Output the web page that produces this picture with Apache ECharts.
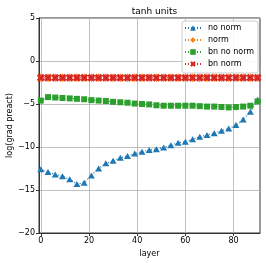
<!DOCTYPE html>
<html>
<head>
<meta charset="utf-8">
<script src="https://cdn.jsdelivr.net/npm/echarts@6/dist/echarts.min.js"></script>
<style>
html,body{margin:0;padding:0;background:#fff;}
#c{width:266px;height:263px;}
</style>
</head>
<body>
<div id="c"></div>
<script>
const layers = [0,3,6,9,12,15,18,21,24,27,30,33,36,39,42,45,48,51,54,57,60,63,66,69,72,75,78,81,84,87,90];
const noNorm = [-12.6,-12.9,-13.2,-13.4,-13.75,-14.3,-14.15,-13.3,-12.5,-11.9,-11.6,-11.25,-11.05,-10.75,-10.55,-10.35,-10.25,-10.05,-9.8,-9.5,-9.4,-9.1,-8.8,-8.6,-8.4,-8.1,-7.85,-7.45,-6.8,-5.9,-4.5];
const norm = [-1.95,-1.95,-1.95,-1.95,-1.95,-1.95,-1.95,-1.95,-1.95,-1.95,-1.95,-1.95,-1.95,-1.95,-1.95,-1.95,-1.95,-1.95,-1.95,-1.95,-1.95,-1.95,-1.95,-1.95,-1.95,-1.95,-1.95,-1.95,-1.95,-1.95,-1.95];
const bnNoNorm = [-4.6,-4.2,-4.25,-4.3,-4.35,-4.4,-4.45,-4.55,-4.6,-4.65,-4.75,-4.8,-4.85,-4.95,-5.0,-5.05,-5.15,-5.2,-5.2,-5.2,-5.2,-5.2,-5.25,-5.3,-5.3,-5.35,-5.4,-5.35,-5.3,-5.2,-4.7];
const bnNorm = [-1.95,-1.95,-1.95,-1.95,-1.95,-1.95,-1.95,-1.95,-1.95,-1.95,-1.95,-1.95,-1.95,-1.95,-1.95,-1.95,-1.95,-1.95,-1.95,-1.95,-1.95,-1.95,-1.95,-1.95,-1.95,-1.95,-1.95,-1.95,-1.95,-1.95,-1.95];
const xTicks = [0,20,40,60,80];
const seriesNames = ['no norm','norm','bn no norm','bn norm'];
const title = 'tanh units';
const xLabel = 'layer';
const yLabel = 'log(grad preact)';

const colors = ['#1f77b4','#ff7f0e','#2ca02c','#d62728'];
const xPath = 'path://M-1.5,-3 L0,-1.5 L1.5,-3 L3,-1.5 L1.5,0 L3,1.5 L1.5,3 L0,1.5 L-1.5,3 L-3,1.5 L-1.5,0 L-3,-1.5 Z';
const symbols = ['triangle','diamond','rect', xPath];
const sizes = [[7,6],[6,9],[6,6],[8,8]];
const datas = [noNorm, norm, bnNoNorm, bnNorm];
const font = 'DejaVu Sans';
const fmtMinus = v => String(v).replace('-', '\u2212');

const chart = echarts.init(document.getElementById('c'), null, {renderer:'canvas'});
chart.setOption({
  animation:false,
  backgroundColor:'#fff',
  title:{text:title, left:149.5, top:2, textAlign:'center', textStyle:{fontFamily:font,fontSize:9,fontWeight:'normal',color:'#000'}},
  grid:{left:39, right:6, top:18, bottom:30, show:true, borderColor:'#333', borderWidth:1, containLabel:false, outerBoundsMode:'none'},
  legend:{
    orient:'vertical', left:182, top:21,
    data:seriesNames,
    itemWidth:16, itemHeight:7, itemGap:4,
    backgroundColor:'rgba(255,255,255,0.85)', borderColor:'#ccc', borderWidth:1, borderRadius:3,
    padding:[3,4,5,2],
    textStyle:{fontFamily:font,fontSize:8,color:'#000', padding:[0,0,0,2]}
  },
  xAxis:{
    type:'value', min:-0.75, max:91, interval:20,
    name:xLabel, nameLocation:'middle', nameGap:17, nameMoveOverlap:false,
    nameTextStyle:{fontFamily:font,fontSize:8,color:'#000'},
    axisLine:{show:true,onZero:false,lineStyle:{color:'#333',width:1}},
    axisTick:{show:true,length:3,lineStyle:{color:'#333'}, customValues:xTicks},
    axisLabel:{fontFamily:font,fontSize:8,color:'#000',margin:4, customValues:xTicks, formatter:fmtMinus},
    splitLine:{show:true,lineStyle:{color:'#b0b0b0',width:0.8}}
  },
  yAxis:{
    type:'value', min:-20, max:5, interval:5,
    name:yLabel, nameLocation:'middle', nameGap:25, nameMoveOverlap:false,
    nameTextStyle:{fontFamily:font,fontSize:8,color:'#000'},
    axisLine:{show:true,onZero:false,lineStyle:{color:'#333',width:1}},
    axisTick:{show:true,length:3,lineStyle:{color:'#333'}},
    axisLabel:{fontFamily:font,fontSize:8,color:'#000',margin:4, formatter:fmtMinus},
    splitLine:{show:true,lineStyle:{color:'#b0b0b0',width:0.8}}
  },
  series: seriesNames.map((n,i)=>({
    name:n, type:'line',
    data: layers.map((x,j)=>[x, datas[i][j]]),
    symbol:symbols[i], symbolSize:sizes[i],
    showAllSymbol:true,
    itemStyle:{color:colors[i]},
    lineStyle:{color:colors[i], type:[1,2], width:1.2},
    z: 2+i
  }))
});
</script>
</body>
</html>
